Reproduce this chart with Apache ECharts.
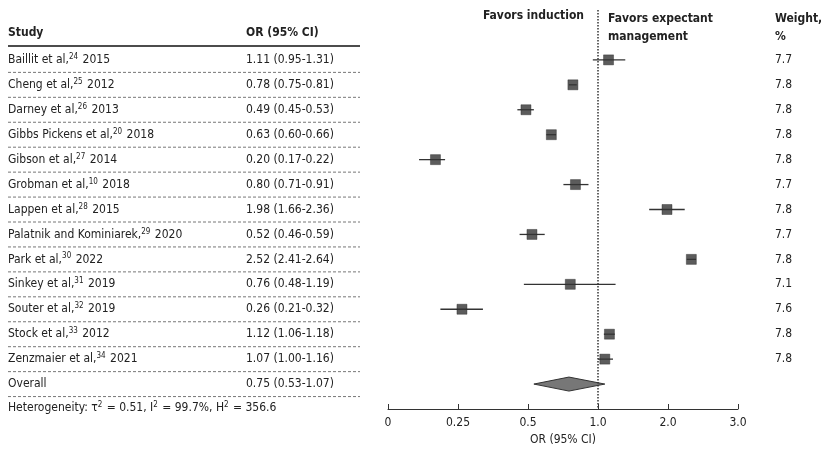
<!DOCTYPE html>
<html>
<head>
<meta charset="utf-8">
<script src="https://cdn.jsdelivr.net/npm/echarts@6/dist/echarts.min.js"></script>
<style>
html,body{margin:0;padding:0;background:#fff;}
#chart{width:824px;height:454px;}
</style>
</head>
<body>
<div id="chart"></div>
<script>
// study rows (name, reference number, year)
var studyNames = ['Baillit et al,', 'Cheng et al,', 'Darney et al,', 'Gibbs Pickens et al,', 'Gibson et al,', 'Grobman et al,',
    'Lappen et al,', 'Palatnik and Kominiarek,', 'Park et al,', 'Sinkey et al,', 'Souter et al,', 'Stock et al,', 'Zenzmaier et al,'];
var studyRefs = ['24', '25', '26', '20', '27', '10', '28', '29', '30', '31', '32', '33', '34'];
var studyYears = ['2015', '2012', '2013', '2018', '2014', '2018', '2015', '2020', '2022', '2019', '2019', '2012', '2021'];
var orValues = [1.11, 0.78, 0.49, 0.63, 0.20, 0.80, 1.98, 0.52, 2.52, 0.76, 0.26, 1.12, 1.07];
var ciLow = [0.95, 0.75, 0.45, 0.60, 0.17, 0.71, 1.66, 0.46, 2.41, 0.48, 0.21, 1.06, 1.00];
var ciHigh = [1.31, 0.81, 0.53, 0.66, 0.22, 0.91, 2.36, 0.59, 2.64, 1.19, 0.32, 1.18, 1.16];
var weights = ['7.7', '7.8', '7.8', '7.8', '7.8', '7.7', '7.8', '7.7', '7.8', '7.1', '7.6', '7.8', '7.8'];
var overall = {or: 0.75, low: 0.53, high: 1.07};
var tickValues = [0.125, 0.25, 0.5, 1, 2, 4];
var tickLabels = ['0', '0.25', '0.5', '1.0', '2.0', '3.0'];

var FONT = '"DejaVu Sans Condensed", "Liberation Sans Narrow", sans-serif';
var TXT = '#222';

var fmt = function (v) { return v.toFixed(2); };
var tableRows = [];
var pointData = [];
var ciData = [];
for (var i = 0; i < studyNames.length; i++) {
    tableRows.push([1, i, '{n|' + studyNames[i] + '}{s|' + studyRefs[i] + '}{n| ' + studyYears[i] + '}',
        fmt(orValues[i]) + ' (' + fmt(ciLow[i]) + '-' + fmt(ciHigh[i]) + ')', weights[i]]);
    pointData.push([orValues[i], i]);
    ciData.push([ciLow[i], ciHigh[i], i]);
}
var overallRow = studyNames.length;
tableRows.push([1, overallRow, '{n|Overall}',
    fmt(overall.or) + ' (' + fmt(overall.low) + '-' + fmt(overall.high) + ')', '']);

var chart = echarts.init(document.getElementById('chart'));
var option = {
    backgroundColor: '#fff',
    animation: false,
    textStyle: {fontFamily: FONT},
    grid: {left: 388, right: 86, top: 10, bottom: 45},
    xAxis: {
        type: 'log', logBase: 2, min: 0.125, max: 4, position: 'bottom',
        name: 'OR (95% CI)', nameLocation: 'middle', nameGap: 25,
        nameTextStyle: {color: TXT, fontSize: 12, fontFamily: FONT},
        axisLine: {onZero: false, lineStyle: {color: '#333', width: 1}},
        axisTick: {inside: true, length: 5, lineStyle: {color: '#333'}},
        splitLine: {show: false},
        axisLabel: {
            color: TXT, fontSize: 12, margin: 8, fontFamily: FONT,
            formatter: function (v) {
                var best = 0;
                for (var k = 0; k < tickValues.length; k++) {
                    if (Math.abs(Math.log(tickValues[k]) - Math.log(v)) < Math.abs(Math.log(tickValues[best]) - Math.log(v))) best = k;
                }
                return tickLabels[best];
            }
        }
    },
    yAxis: {type: 'value', inverse: true, min: -2, max: 14, show: false},
    series: [
        {
            // reference line at OR = 1
            type: 'line', data: [[1, -2], [1, 14]], symbol: 'none', silent: true,
            lineStyle: {color: '#333', width: 1.5, type: [1.5, 1.5]}
        },
        {
            type: 'custom', data: ciData, encode: {x: [0, 1], y: 2}, clip: false,
            renderItem: function (params, api) {
                var a = api.coord([api.value(0), api.value(2)]);
                var b = api.coord([api.value(1), api.value(2)]);
                return {type: 'line', shape: {x1: a[0], y1: a[1], x2: b[0], y2: b[1]},
                    style: {stroke: '#333', lineWidth: 1.3}};
            }
        },
        {
            type: 'scatter', data: pointData, symbol: 'rect', symbolSize: 10,
            itemStyle: {color: '#333', borderColor: '#222', borderWidth: 0.5}
        },
        {
            // pooled estimate diamond
            type: 'custom', data: [[overall.low, overall.or, overall.high, overallRow]], clip: false,
            encode: {x: [0, 2], y: 3},
            renderItem: function (params, api) {
                var r = api.value(3);
                var l = api.coord([api.value(0), r]);
                var c = api.coord([api.value(1), r]);
                var h = api.coord([api.value(2), r]);
                return {type: 'polygon', shape: {points: [[l[0], l[1]], [c[0], c[1] - 7], [h[0], h[1]], [c[0], c[1] + 7]]},
                    style: {fill: '#777', stroke: '#333', lineWidth: 1}};
            }
        },
        {
            // left table and weight column
            type: 'custom', data: tableRows, clip: false, silent: true,
            encode: {x: 0, y: 1},
            renderItem: function (params, api) {
                var row = tableRows[params.dataIndex];
                var y = api.coord([1, row[1]])[1];
                return {
                    type: 'group',
                    children: [
                        {type: 'text', style: {x: 8, y: y, text: row[2], verticalAlign: 'middle', fill: TXT,
                            rich: {n: {fontSize: 12, fontFamily: FONT, fill: TXT},
                                s: {fontSize: 8, fontFamily: FONT, fill: TXT, verticalAlign: 'top', padding: [0, 1, 6, 0]}}}},
                        {type: 'text', style: {x: 246, y: y, text: row[3], verticalAlign: 'middle', fill: TXT,
                            font: '12px ' + FONT}},
                        {type: 'text', style: {x: 775, y: y, text: row[4], verticalAlign: 'middle', fill: TXT,
                            font: '12px ' + FONT}},
                        {type: 'line', shape: {x1: 8, y1: y + 12.5, x2: 360, y2: y + 12.5},
                            style: {stroke: '#777', lineWidth: 1, lineDash: [3, 2]}}
                    ]
                };
            }
        }
    ],
    graphic: [
        {type: 'text', left: 8, top: 27, style: {text: 'Study', font: 'bold 12px ' + FONT, fill: TXT}},
        {type: 'text', left: 246, top: 27, style: {text: 'OR (95% CI)', font: 'bold 12px ' + FONT, fill: TXT}},
        {type: 'line', shape: {x1: 8, y1: 46, x2: 360, y2: 46}, style: {stroke: '#111', lineWidth: 1.5}},
        {type: 'text', right: 824 - 584, top: 10, style: {text: 'Favors induction', font: 'bold 12px ' + FONT, fill: TXT, align: 'right'}},
        {type: 'text', left: 608, top: 10, style: {text: 'Favors expectant\nmanagement', font: 'bold 12px ' + FONT, fill: TXT, lineHeight: 18}},
        {type: 'text', left: 775, top: 10, style: {text: 'Weight,\n%', font: 'bold 12px ' + FONT, fill: TXT, lineHeight: 18}},
        {type: 'text', left: 8, top: 401, style: {
            text: '{n|Heterogeneity: τ}{s|2}{n| = 0.51, I}{s|2}{n| = 99.7%, H}{s|2}{n| = 356.6}',
            rich: {n: {fontSize: 12, fontFamily: FONT, fill: TXT},
                s: {fontSize: 8, fontFamily: FONT, fill: TXT, verticalAlign: 'top', padding: [0, 1, 6, 0]}}}}
    ]
};
chart.setOption(option);
</script>
</body>
</html>
